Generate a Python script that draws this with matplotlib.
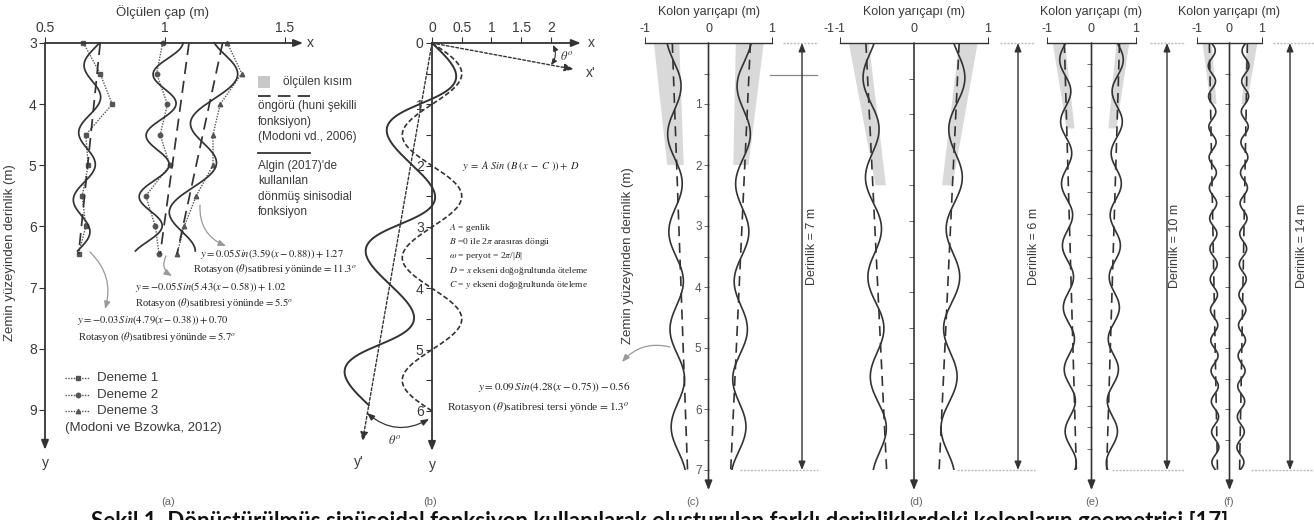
import numpy as np
import matplotlib.pyplot as plt
from matplotlib.lines import Line2D

plt.rcParams['font.family'] = ['Liberation Sans', 'DejaVu Sans']
plt.rcParams['mathtext.fontset'] = 'stix'

W, H = 1314, 520
INK = '#333333'
TXT = '#3a3a3a'
LIGHT = '#999999'
SHADE = '#d9d9d9'
SERIF = 'Liberation Serif'

# ---------------- (a) measured diameters (Modoni ve Bzowka, 2012)
a_depth = [3.0, 3.5, 4.0, 4.5, 5.0, 5.5, 6.0, 6.45]
a_trial1 = [0.66, 0.73, 0.78, 0.67, 0.68, 0.655, 0.67, 0.64]
a_trial2 = [0.99, 0.965, 1.01, 0.98, 1.02, 0.92, 0.96, 0.975]
a_trial3 = [1.26, 1.32, 1.23, 1.20, 1.20, 1.13, 1.08, 1.05]
a_trials = [a_trial1, a_trial2, a_trial3]
a_markers = ['s', 'o', '^']
a_names = ['Deneme 1', 'Deneme 2', 'Deneme 3']
# rotated sinusoid fits: centre top/bottom, amplitude, period, depth of a peak
a_fit_top = [0.71, 1.02, 1.26]
a_fit_bot = [0.64, 0.92, 1.05]
a_fit_amp = [0.04, 0.055, 0.075]
a_fit_period = [1.1, 1.0, 1.45]
a_fit_peak = [5.0, 5.0, 3.55]
a_fit_end = 6.4
# funnel shaped prediction (dashed), top and bottom
a_pred_top = [0.73, 1.10, 1.24]
a_pred_bot = [0.64, 0.98, 1.05]

# ---------------- (b) definition sketch
b_amp = 0.5
b_period = 2.0
b_depth = 6.0
b_rot = 10.2   # degrees, drawn rotation of the solid curve

# ---------------- (c)-(f) columns of 7, 6, 10, 14 m
col_depth = [7, 6, 10, 14]
col_labels = ['(c)', '(d)', '(e)', '(f)']
shade_depth = [2.0, 2.0, 2.0, 2.0]
shade_L_top = [(-0.86, -0.46), (-0.88, -0.61), (-0.87, -0.60), (-0.83, -0.55)]
shade_L_bot = [(-0.65, -0.39), (-0.52, -0.38), (-0.56, -0.38), (-0.58, -0.40)]
shade_R_top = [(0.43, 0.87), (0.61, 0.86), (0.56, 0.85), (0.55, 0.86)]
shade_R_bot = [(0.39, 0.63), (0.38, 0.52), (0.38, 0.56), (0.37, 0.53)]
pred_L = [(-0.57, -0.33), (-0.65, -0.37), (-0.61, -0.34), (-0.62, -0.37)]
pred_R = [(0.66, 0.35), (0.61, 0.34), (0.63, 0.34), (0.55, 0.31)]
wave_L = [(-0.55, -0.47), (-0.60, -0.46), (-0.60, -0.46), (-0.55, -0.43)]
wave_R = [(0.57, 0.47), (0.60, 0.45), (0.60, 0.45), (0.50, 0.33)]
wave_amp = [0.11, 0.10, 0.12, 0.11]
wave_period = [1.6, 1.4, 1.45, 1.0]
wave_bulge = [1.5, 0.5, 0.4, 0.75]


fig = plt.figure(figsize=(W / 100, H / 100), dpi=100)
fig.patch.set_facecolor('white')


def make_ax(x0, x1, y0, y1, xlim, ylim):
    ax = fig.add_axes([x0 / W, 1 - y1 / H, (x1 - x0) / W, (y1 - y0) / H])
    ax.set_xlim(*xlim)
    ax.set_ylim(*ylim)
    ax.patch.set_visible(False)
    for s in ax.spines.values():
        s.set_visible(False)
    return ax


def arrow(ax, start, end, style='-|>', lw=1.3, color=INK, ls='-', head=(0.55, 0.22)):
    ax.annotate('', xy=end, xytext=start, annotation_clip=False,
                arrowprops=dict(arrowstyle='%s,head_length=%s,head_width=%s' % (style, head[0], head[1]),
                                color=color, lw=lw, ls=ls, shrinkA=0, shrinkB=0))


# overlay in pixel units for captions, legend swatches and pointers
ov = fig.add_axes([0, 0, 1, 1])
ov.set_xlim(0, W)
ov.set_ylim(H, 0)
ov.axis('off')


def curved(p0, p1, rad):
    ov.annotate('', xy=p1, xytext=p0,
                arrowprops=dict(arrowstyle='-|>,head_length=0.45,head_width=0.18', color=LIGHT, lw=0.9,
                                connectionstyle='arc3,rad=%s' % rad, shrinkA=0, shrinkB=0))


# ============================ (a)
ax = make_ax(45, 285, 43, 410, (0.5, 1.5), (9, 3))
arrow(ax, (0.5, 3), (1.575, 3))
arrow(ax, (0.5, 3), (0.5, 9.65))
ax.xaxis.tick_top()
ax.set_xticks([0.5, 1, 1.5], ['0.5', '1', '1.5'])
ax.set_yticks(range(3, 10))
ax.tick_params(direction='out', length=4, width=0.8, color=INK, labelsize=10, labelcolor=TXT, pad=2)

for i in range(3):
    ax.plot(a_trials[i], a_depth, ls=(0, (1, 1)), color='#555555', lw=1.0, marker=a_markers[i],
            ms=3.2, mfc='#555555', mec='#555555', clip_on=False)
    d = np.linspace(3.0, a_fit_end, 300)
    centre = a_fit_top[i] + (a_fit_bot[i] - a_fit_top[i]) * (d - 3.0) / (a_depth[-1] - 3.0)
    ax.plot(centre + a_fit_amp[i] * np.cos(2 * np.pi * (d - a_fit_peak[i]) / a_fit_period[i]), d,
            color=INK, lw=1.25, clip_on=False)
    ax.plot([a_pred_top[i], a_pred_bot[i]], [a_depth[0], a_depth[-1]], color=INK, lw=1.25,
            dashes=(7, 4), clip_on=False)

ov.text(163, 12, 'Ölçülen çap (m)', ha='center', va='center', fontsize=9.5, color=TXT)
ov.text(10, 253, 'Zemin yüzeyinden derinlik (m)', rotation=90, ha='center', va='center',
        fontsize=9.5, color=TXT)
ov.text(310, 43, 'x', ha='center', va='center', fontsize=10, color=TXT)
ov.text(45, 463, 'y', ha='center', va='center', fontsize=10, color=TXT)

# legend, right side
ov.add_patch(plt.Rectangle((258, 76), 12, 12, color='#c8c8c8', lw=0))
ov.text(283, 82, 'ölçülen kısım', va='center', fontsize=8.5, color=TXT)
ov.add_line(Line2D([258, 310], [96, 96], color=INK, lw=1.3, dashes=(7, 4)))
for k, s in enumerate(['öngörü (huni şekilli', 'fonksiyon)', '(Modoni vd., 2006)']):
    ov.text(258, 106 + 15.5 * k, s, va='center', fontsize=8.5, color=TXT)
ov.add_line(Line2D([258, 310], [153, 153], color=INK, lw=1.3))
for k, s in enumerate(["Algin (2017)'de", 'kullanılan', 'dönmüş sinisodial', 'fonksiyon']):
    ov.text(258, 166 + 15.3 * k, s, va='center', fontsize=8.5, color=TXT)

# legend, bottom left
for k in range(3):
    yk = 378 + 16.5 * k
    ov.add_line(Line2D([65, 90], [yk, yk], ls=(0, (1, 1)), color='#555555', lw=1.0))
    ov.add_line(Line2D([77.5], [yk], marker=a_markers[k], ms=3.2, color='#555555', ls='none'))
    ov.text(97, yk, a_names[k], va='center', fontsize=9.5, color=TXT)
ov.text(65, 428, '(Modoni ve Bzowka, 2012)', va='center', fontsize=9.5, color=TXT)

# equations
eqs = [(200, 254, r'$y = 0.05\,Sin\left(3.59\left(x-0.88\right)\right)+1.27$'),
       (193, 269, r'Rotasyon $\left(\theta\right)$satibresi yönünde$\,=11.3^{o}$'),
       (135, 287, r'$y = -0.05\,Sin\left(5.43\left(x-0.58\right)\right)+1.02$'),
       (135, 303, r'Rotasyon $\left(\theta\right)$satibresi yönünde$\,=5.5^{o}$'),
       (77, 320, r'$y = -0.03\,Sin\left(4.79\left(x-0.38\right)\right)+0.70$'),
       (78, 337, r'Rotasyon $\left(\theta\right)$satibresi yönünde$\,=5.7^{o}$')]
for x, y, s in eqs:
    ov.text(x, y, s, va='center', fontsize=7.6, color='#222222', family=SERIF)
curved((200, 205), (226, 246), 0.35)
curved((166, 256), (172, 276), 0.45)
curved((90, 252), (105, 309), -0.3)

# ============================ (b)
bx = make_ax(432, 551, 43, 411, (0, 2), (6, 0))
arrow(bx, (0, 0), (2.5, 0))
arrow(bx, (0, 0), (0, 6.65))
th = np.radians(b_rot)
arrow(bx, (0, 0), (2.42 * np.cos(th), 2.42 * np.sin(th)), lw=1.0, ls=(0, (2, 1.5)))
arrow(bx, (0, 0), (-6.6 * np.sin(th), 6.6 * np.cos(th)), lw=1.0, ls=(0, (2, 1.5)))
bx.xaxis.tick_top()
bx.set_xticks([0, 0.5, 1, 1.5, 2], ['0', '0.5', '1', '1.5', '2'])
bx.set_yticks(range(0, 7))
bx.set_yticks(np.arange(0.5, 6, 1), minor=True)
bx.tick_params(which='both', direction='out', length=4, width=0.8, color=INK, labelsize=10,
               labelcolor=TXT, pad=2)

d = np.linspace(0, b_depth, 400)
xb = b_amp * np.sin(2 * np.pi * d / b_period)
bx.plot(xb, d, color=INK, lw=1.2, ls=(0, (3, 1.5)), clip_on=False)
bx.plot(xb * np.cos(th) - d * np.sin(th), xb * np.sin(th) + d * np.cos(th), color=INK, lw=1.4,
        clip_on=False)

ov.text(591, 43, 'x', ha='center', va='center', fontsize=10, color=TXT)
ov.text(591, 73, "x'", ha='center', va='center', fontsize=10, color=TXT)
ov.text(432, 465, 'y', ha='center', va='center', fontsize=10, color=TXT)
ov.text(359, 462, "y'", ha='center', va='center', fontsize=10, color=TXT)
ov.annotate('', xy=(551, 65), xytext=(553, 45),
            arrowprops=dict(arrowstyle='<|-|>,head_length=0.35,head_width=0.15', color=INK, lw=0.8,
                            connectionstyle='arc3,rad=-0.3', shrinkA=0, shrinkB=0))
ov.text(567, 57, r'$\theta^{o}$', ha='center', va='center', fontsize=9, color=TXT)
ov.annotate('', xy=(429, 419), xytext=(367, 413),
            arrowprops=dict(arrowstyle='<|-|>,head_length=0.45,head_width=0.18', color=INK, lw=0.9,
                            connectionstyle='arc3,rad=0.35', shrinkA=0, shrinkB=0))
ov.text(395, 440, r'$\theta^{o}$', ha='center', va='center', fontsize=9, color=TXT)

ov.text(462, 166, r'$y\ =\ A\ Sin\ \left(B\ \left(x\ -\ C\ \right)\right)+\ D$', va='center',
        fontsize=7.5, color='#222222')
defs = [r'$A$ = genlik', r'$B$ =0 ile 2$\pi$ arasıras döngü', r'$\omega$ = peryot = 2$\pi$/|$B$|',
        r'$D$ = $x$ ekseni doğoğrultunda öteleme', r'$C$ = $y$ ekseni doğoğrultunda öteleme']
for k, s in enumerate(defs):
    ov.text(449, 228 + 14.2 * k, s, va='center', fontsize=6.8, color='#222222', family=SERIF)
ov.text(478, 387, r'$y = 0.09\,Sin\left(4.28\left(x-0.75\right)\right)-0.56$', va='center',
        fontsize=8, color='#222222')
ov.text(447, 407, r'Rotasyon $\left(\theta\right)$satibresi tersi yönde$\,=1.3^{o}$', va='center',
        fontsize=8.2, color='#222222', family=SERIF)
curved((670, 347), (622, 362), 0.3)

# ============================ (c)-(f)
col_box = [(645, 772), (840, 988), (1047, 1136), (1197, 1262)]
col_tick = [0.5, 0.5, 0.5, 1.0]
depth_arrow_x = [802, 1018, 1167, 1290]
depth_text_dx = [10, 16, 8, 12]
dot_top = [(783, 818), (1000, 1035), (1150, 1185), (1273, 1314)]
dot_bot = [(740, 818), (957, 1035), (1112, 1185), (1251, 1314)]
for k in range(4):
    x0, x1 = col_box[k]
    D = col_depth[k]
    cx = make_ax(x0, x1, 43, 470, (-1, 1), (D, 0))
    cx.spines['top'].set_visible(True)
    cx.spines['top'].set_color(INK)
    cx.spines['top'].set_linewidth(1.0)
    cx.spines['left'].set_position(('data', 0))
    cx.xaxis.tick_top()
    cx.set_xticks([-1, 0, 1], ['-1', '0', '1'])
    cx.xaxis.get_major_ticks()[1].tick2line.set_visible(False)
    arrow(cx, (0, 0), (0, D * 1.047), lw=1.2)
    sd = shade_depth[k]
    cx.fill([shade_L_top[k][0], shade_L_top[k][1], shade_L_bot[k][1], shade_L_bot[k][0]], [0, 0, sd, sd],
            color=SHADE, lw=0, zorder=0)
    cx.fill([shade_R_top[k][0], shade_R_top[k][1], shade_R_bot[k][1], shade_R_bot[k][0]], [0, 0, sd, sd],
            color=SHADE, lw=0, zorder=0)
    cx.plot(pred_L[k], [0, D], color=INK, lw=1.2, dashes=(6, 4))
    cx.plot(pred_R[k], [0, D], color=INK, lw=1.2, dashes=(6, 4))
    d = np.linspace(0, D, 600)
    osc = wave_amp[k] * np.cos(2 * np.pi * (d - wave_bulge[k]) / wave_period[k])
    cl = wave_L[k][0] + (wave_L[k][1] - wave_L[k][0]) * d / D
    cr = wave_R[k][0] + (wave_R[k][1] - wave_R[k][0]) * d / D
    cx.plot(cl - osc, d, color=INK, lw=1.2)
    cx.plot(cr + osc, d, color=INK, lw=1.2)
    if k == 0:
        cx.set_yticks(range(1, D + 1))
        cx.set_yticks(np.arange(0.5, D, 1), minor=True)
    else:
        ticks = np.arange(col_tick[k], D, col_tick[k])
        cx.set_yticks(ticks, [''] * len(ticks))
    cx.tick_params(which='both', direction='out', length=3.5, width=0.7, color='#666666', labelsize=8.5,
                   labelcolor='#555555', pad=1.5)
    cx.tick_params(axis='x', length=4, color=INK, labelsize=9, labelcolor=TXT)
    ov.text((x0 + x1) / 2, 12, 'Kolon yarıçapı (m)', ha='center', va='center', fontsize=9, color=TXT)

    # depth dimension line
    xa = depth_arrow_x[k]
    ov.annotate('', xy=(xa, 470), xytext=(xa, 43),
                arrowprops=dict(arrowstyle='<|-|>,head_length=0.5,head_width=0.2', color=INK, lw=1.0,
                                shrinkA=0, shrinkB=0))
    ov.add_line(Line2D(dot_top[k], [43, 43], color='#bbbbbb', lw=1.0, ls=(0, (1.5, 1))))
    ov.add_line(Line2D(dot_bot[k], [470, 470], color='#bbbbbb', lw=1.0, ls=(0, (1.5, 1))))
    ov.text(xa + depth_text_dx[k], 246, 'Derinlik = %d m' % D, rotation=90, ha='center', va='center',
            fontsize=9, color=TXT)

ov.add_line(Line2D([770, 817], [75, 75], color='#888888', lw=0.9))
ov.text(829, 29, '-1', ha='center', va='center', fontsize=9, color=TXT)
ov.text(628, 256, 'Zemin yüzeyinden derinlik (m)', rotation=90, ha='center', va='center',
        fontsize=9.5, color=TXT)

# panel letters
for x, s in zip([168, 430, 693, 916, 1092, 1229], ['(a)', '(b)'] + col_labels):
    ov.text(x, 502, s, ha='center', va='center', fontsize=8, color='#666666')

ov.text(660, 528, 'Şekil 1. Dönüştürülmüş sinüsoidal fonksiyon kullanılarak oluşturulan farklı '
        'derinliklerdeki kolonların geometrisi [17]', ha='center', va='baseline', fontsize=16,
        fontweight='bold', color='#111111', family='Lato')

fig.savefig('out.png', dpi=100)
